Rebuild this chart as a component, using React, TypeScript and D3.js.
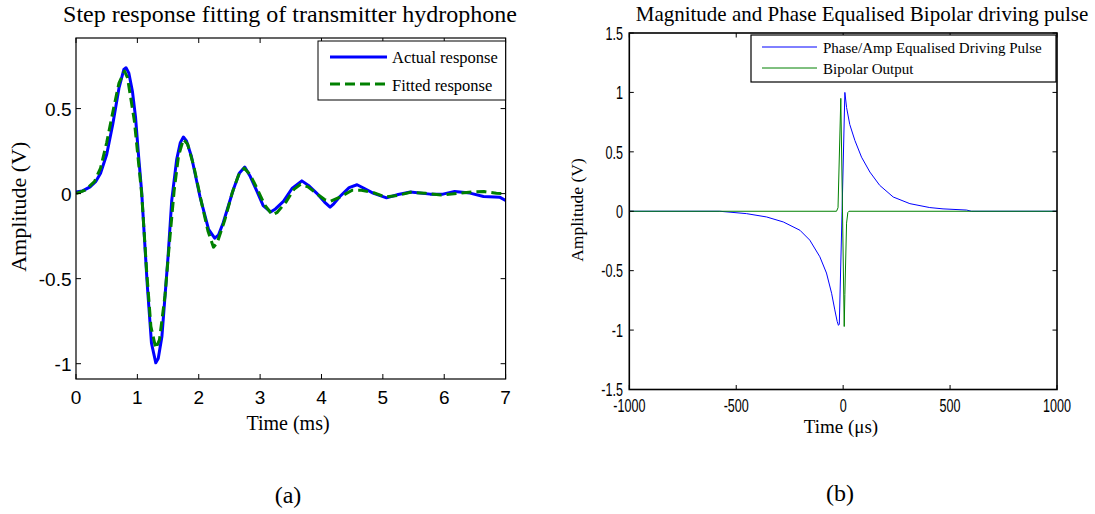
import React from 'react';
import * as d3 from 'd3';

// ---------- Panel (a): step response (time in ms, amplitude in V) ----------
const actualTime = [0, 0.1, 0.23, 0.32, 0.4, 0.5, 0.6, 0.7, 0.78, 0.815, 0.86, 0.92, 0.97, 1.02, 1.07, 1.16, 1.23, 1.3, 1.34, 1.4, 1.5, 1.56, 1.64, 1.7, 1.75, 1.8, 1.88, 2.02, 2.16, 2.26, 2.32, 2.4, 2.56, 2.66, 2.75, 2.84, 2.94, 3.05, 3.17, 3.25, 3.38, 3.52, 3.68, 3.8, 3.92, 4.05, 4.14, 4.2, 4.3, 4.45, 4.58, 4.7, 4.84, 5.06, 5.25, 5.45, 5.77, 5.98, 6.17, 6.42, 6.64, 6.91, 7.0];
const actualResponse = [0.01, 0.015, 0.04, 0.07, 0.12, 0.23, 0.41, 0.62, 0.73, 0.74, 0.71, 0.6, 0.45, 0.22, 0.01, -0.53, -0.88, -0.995, -0.97, -0.84, -0.37, -0.04, 0.2, 0.3, 0.333, 0.31, 0.22, -0.017, -0.21, -0.262, -0.245, -0.17, 0.02, 0.12, 0.156, 0.1, 0.02, -0.07, -0.108, -0.09, -0.046, 0.03, 0.075, 0.045, 0.003, -0.05, -0.08, -0.06, -0.017, 0.035, 0.052, 0.03, 0.003, -0.025, -0.005, 0.009, -0.003, -0.003, 0.013, 0.003, -0.017, -0.022, -0.04];

const fittedTime = [0, 0.15, 0.3, 0.4, 0.5, 0.6, 0.7, 0.79, 0.84, 0.95, 1.07, 1.15, 1.22, 1.3, 1.36, 1.45, 1.52, 1.6, 1.67, 1.75, 1.82, 1.92, 2.05, 2.15, 2.24, 2.3, 2.42, 2.55, 2.65, 2.74, 2.84, 2.95, 3.08, 3.2, 3.28, 3.42, 3.55, 3.66, 3.78, 3.92, 4.05, 4.15, 4.3, 4.5, 4.65, 4.85, 5.05, 5.25, 5.45, 5.7, 5.95, 6.2, 6.45, 6.65, 6.85, 7.0];
const fittedResponse = [0.0, 0.02, 0.07, 0.15, 0.3, 0.48, 0.65, 0.72, 0.68, 0.43, 0.0, -0.45, -0.78, -0.91, -0.86, -0.6, -0.3, 0.02, 0.22, 0.32, 0.29, 0.16, -0.06, -0.22, -0.315, -0.29, -0.16, 0.01, 0.11, 0.15, 0.11, 0.03, -0.07, -0.125, -0.11, -0.05, 0.025, 0.055, 0.04, 0.0, -0.035, -0.045, -0.02, 0.02, 0.02, 0.005, -0.02, -0.01, 0.008, 0.002, -0.008, 0.0, 0.01, 0.012, 0.002, 0.0];

const stepXTicks = [0, 1, 2, 3, 4, 5, 6, 7];
const stepYTicks = [-1, -0.5, 0, 0.5];
const stepYTickLabels = ['-1', '-0.5', '0', '0.5'];
const stepLegend = ['Actual response', 'Fitted response'];

// ---------- Panel (b): driving pulse (time in µs, amplitude in V) ----------
const driveTime = [-1000, -577, -452, -358, -280, -202, -156, -109, -78, -54, -39, -28, -22, -18, -5, 8, 16, 31, 55, 86, 125, 171, 234, 312, 405, 467, 577, 600, 1000];
const driveValue = [0, 0, -0.02, -0.048, -0.09, -0.16, -0.243, -0.383, -0.52, -0.69, -0.83, -0.927, -0.96, -0.95, 0.0, 1.0, 0.873, 0.73, 0.595, 0.455, 0.33, 0.218, 0.12, 0.064, 0.031, 0.02, 0.01, 0, 0];

const bipolarTime = [-1000, -31, -24, -11, 5, 8, 16, 22, 27, 1000];
const bipolarValue = [0, 0, 0.03, 0.95, -0.97, -0.7, -0.1, -0.01, 0, 0];

const pulseXTicks = [-1000, -500, 0, 500, 1000];
const pulseYTicks = [-1.5, -1, -0.5, 0, 0.5, 1, 1.5];
const pulseLegend = ['Phase/Amp Equalised Driving Pulse', 'Bipolar Output'];

const SERIF = '"Times New Roman", "Liberation Serif", serif';
const SANS = 'Arial, "Liberation Sans", sans-serif';

type Pt = [number, number];
const zip = (xs: number[], ys: number[]): Pt[] => xs.map((x, i) => [x, ys[i]]);

function StepPanel() {
  const L = 76, R = 505.6, T = 38, B = 379;
  const x = d3.scaleLinear().domain([0, 7]).range([L, R]);
  const y = d3.scaleLinear().domain([-1.09, 0.915]).range([B, T]);
  const line = d3.line<Pt>().x(d => x(d[0])).y(d => y(d[1]));
  const tk = 5;
  return (
    <g>
      <defs>
        <clipPath id="clipA"><rect x={L} y={T} width={R - L} height={B - T} /></clipPath>
      </defs>
      <text x={290} y={22} fontFamily={SERIF} fontSize={24} textAnchor="middle">Step response fitting of transmitter hydrophone</text>
      <g clipPath="url(#clipA)">
        <path d={line(zip(actualTime, actualResponse)) || ''} fill="none" stroke="#0000ff" strokeWidth={3} strokeLinejoin="round" />
        <path d={line(zip(fittedTime, fittedResponse)) || ''} fill="none" stroke="#008000" strokeWidth={3} strokeDasharray="10,5" strokeLinejoin="round" />
      </g>
      <rect x={L} y={T} width={R - L} height={B - T} fill="none" stroke="#000" strokeWidth={1.2} />
      {stepXTicks.map(t => (
        <g key={'x' + t}>
          <line x1={x(t)} x2={x(t)} y1={B} y2={B - tk} stroke="#000" />
          <line x1={x(t)} x2={x(t)} y1={T} y2={T + tk} stroke="#000" />
          <text x={x(t)} y={404} fontFamily={SANS} fontSize={19} textAnchor="middle">{t}</text>
        </g>
      ))}
      {stepYTicks.map((v, i) => (
        <g key={'y' + v}>
          <line x1={L} x2={L + tk} y1={y(v)} y2={y(v)} stroke="#000" />
          <line x1={R} x2={R - tk} y1={y(v)} y2={y(v)} stroke="#000" />
          <text x={71.5} y={y(v) + 7} fontFamily={SANS} fontSize={19} textAnchor="end">{stepYTickLabels[i]}</text>
        </g>
      ))}
      <g>
        <rect x={318} y={41} width={R - 318} height={59} fill="#fff" stroke="#000" strokeWidth={1} />
        <line x1={330} x2={387} y1={57} y2={57} stroke="#0000ff" strokeWidth={3} />
        <line x1={330} x2={387} y1={84} y2={84} stroke="#008000" strokeWidth={3} strokeDasharray="10,5" />
        <text x={392} y={63} fontFamily={SERIF} fontSize={16.5}>{stepLegend[0]}</text>
        <text x={392} y={90.5} fontFamily={SERIF} fontSize={16.5}>{stepLegend[1]}</text>
      </g>
      <text transform="translate(26,206.7) rotate(-90)" fontFamily={SERIF} fontSize={22} textAnchor="middle">Amplitude (V)</text>
      <text x={288} y={430} fontFamily={SERIF} fontSize={20} textAnchor="middle">Time (ms)</text>
      <text x={288} y={503} fontFamily={SERIF} fontSize={24} textAnchor="middle">(a)</text>
    </g>
  );
}

function PulsePanel() {
  const L = 629.3, R = 1057, T = 33, B = 389.5;
  const x = d3.scaleLinear().domain([-1000, 1000]).range([L, R]);
  const y = d3.scaleLinear().domain([-1.5, 1.5]).range([B, T]);
  const line = d3.line<Pt>().x(d => x(d[0])).y(d => y(d[1]));
  const tk = 4.5;
  const sx = 0.68;
  return (
    <g>
      <defs>
        <clipPath id="clipB"><rect x={L} y={T} width={R - L} height={B - T} /></clipPath>
      </defs>
      <text x={862} y={21} fontFamily={SERIF} fontSize={21} textAnchor="middle">Magnitude and Phase Equalised Bipolar driving pulse</text>
      <g clipPath="url(#clipB)">
        <path d={line(zip(driveTime, driveValue)) || ''} fill="none" stroke="#0000ff" strokeWidth={1} />
        <path d={line(zip(bipolarTime, bipolarValue)) || ''} fill="none" stroke="#008000" strokeWidth={1} />
      </g>
      {pulseXTicks.map(t => (
        <g key={'x' + t}>
          <line x1={x(t)} x2={x(t)} y1={B} y2={B - tk} stroke="#000" />
          <line x1={x(t)} x2={x(t)} y1={T} y2={T + tk} stroke="#000" />
          <text transform={`translate(${x(t)},411.5) scale(${sx},1)`} fontFamily={SANS} fontSize={18.5} textAnchor="middle">{String(t)}</text>
        </g>
      ))}
      {pulseYTicks.map(v => (
        <g key={'y' + v}>
          <line x1={L} x2={L + tk} y1={y(v)} y2={y(v)} stroke="#000" />
          <line x1={R} x2={R - tk} y1={y(v)} y2={y(v)} stroke="#000" />
          <text transform={`translate(623,${y(v) + 6.7}) scale(${sx},1)`} fontFamily={SANS} fontSize={18.5} textAnchor="end">{String(v)}</text>
        </g>
      ))}
      <rect x={L} y={T} width={R - L} height={B - T} fill="none" stroke="#000" strokeWidth={1.6} />
      <g>
        <rect x={751} y={35} width={305} height={47} fill="#fff" stroke="#000" strokeWidth={1.2} />
        <line x1={762} x2={817} y1={47} y2={47} stroke="#0000ff" strokeWidth={1} />
        <line x1={762} x2={817} y1={68} y2={68} stroke="#008000" strokeWidth={1} />
        <text x={823} y={52.5} fontFamily={SERIF} fontSize={15}>{pulseLegend[0]}</text>
        <text x={823} y={74} fontFamily={SERIF} fontSize={15}>{pulseLegend[1]}</text>
      </g>
      <text transform="translate(582.5,210) rotate(-90)" fontFamily={SERIF} fontSize={17.5} textAnchor="middle">Amplitude (V)</text>
      <text x={841} y={433} fontFamily={SERIF} fontSize={19} textAnchor="middle">Time (μs)</text>
      <text x={840} y={501} fontFamily={SERIF} fontSize={24} textAnchor="middle">(b)</text>
    </g>
  );
}

export default function App() {
  return (
    <svg width={1095} height={514} viewBox="0 0 1095 514" style={{ position: 'absolute', left: 0, top: 0, background: '#fff' }}>
      <rect x={0} y={0} width={1095} height={514} fill="#fff" />
      <StepPanel />
      <PulsePanel />
    </svg>
  );
}
